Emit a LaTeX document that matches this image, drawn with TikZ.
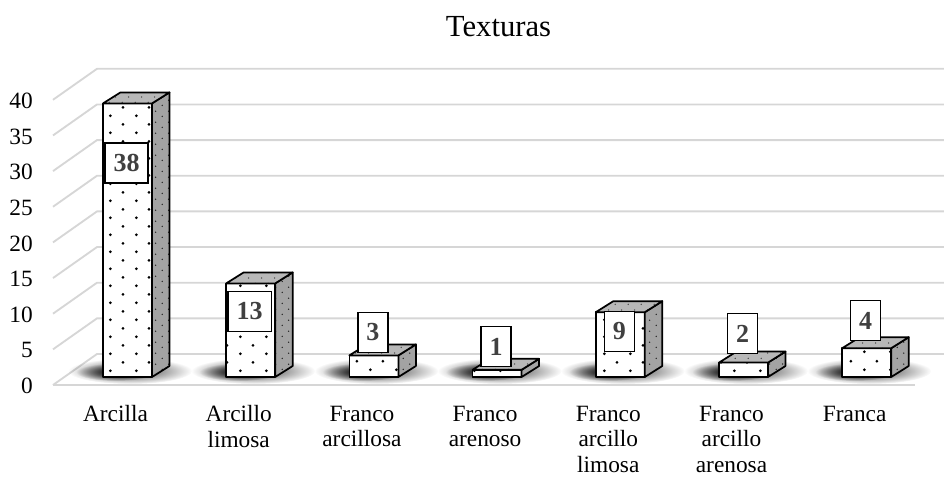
\documentclass[tikz,border=0pt]{standalone}
\usepackage{fontspec}
\setmainfont{Liberation Serif}
\usetikzlibrary{patterns.meta,fadings}

% dot patterns for the bar faces
\tikzdeclarepattern{
  name=bardots,
  type=uncolored,
  bottom left={(0pt,0pt)},
  top right={(19.5pt,13pt)},
  tile size={(19.5pt,13pt)},
  code={
    \fill (4.9pt,3.25pt) circle (1.15pt);
    \fill (14.6pt,9.75pt) circle (1.15pt);
  }
}
\tikzdeclarepattern{
  name=finedots,
  type=uncolored,
  bottom left={(0pt,0pt)},
  top right={(10pt,8pt)},
  tile size={(10pt,8pt)},
  code={
    \fill (2.5pt,2pt) circle (0.6pt);
    \fill (7.5pt,6pt) circle (0.6pt);
  }
}
\tikzfading[name=shadowfade, inner color=transparent!0, outer color=transparent!100]

\begin{document}
\begin{tikzpicture}[x=0.75pt,y=0.75pt]
\tikzstyle{grid} 	= [color = black!16, line width = 1.4pt] % light grid line
\tikzstyle{face} 	= [draw, color = black, line width = 1.3pt, line join = round] % bar outline
\tikzstyle{shadow}	= [fill = black, path fading = shadowfade] % soft floor shadow
\tikzstyle{ticklabel}	= [anchor = east, inner sep = 0, font = \fontsize{17.5}{20}\selectfont]
\tikzstyle{catlabel}	= [anchor = north, inner sep = 0, align = center, font = \fontsize{17.5}{19.2}\selectfont]
\tikzstyle{valbox}	= [draw, fill = white, line width = 1.1pt, text = black!75, inner xsep = 6.4pt, inner ysep = 0pt, minimum height = 30pt, font = \fontsize{19.5}{22}\selectfont\bfseries]

\useasboundingbox (0,0) rectangle (944,478);

% title
\node(title)[anchor = base, font = \fontsize{23}{27}\selectfont] at (498.5,441){Texturas};

% walls, grid and value axis
\foreach \v in {0,5,...,40}{
	\draw[grid] (53,93+7.13*\v) -- (97,124+7.13*\v) -- (944,124+7.13*\v);
	\node(tick\v)[ticklabel] at (33,92+7.13*\v){\v};
}
\draw[grid] (53,93) -- (915,93);

% soft shadows on the floor
\foreach \i in {0,...,6}{
	\fill[shadow, opacity = 0.8] (130+123.2*\i,107) ellipse (62 and 13);
	\fill[shadow] (116+123.2*\i,106) ellipse (40 and 9);
}

% bars: front, side, top
\foreach \i/\v in {0/38,1/13,2/3,3/1,4/9,5/2,6/4}{
	\pgfmathsetmacro\x{103+123.2*\i}
	\pgfmathsetmacro\h{7.2*\v}
	\path[face, preaction = {fill = white}, pattern = bardots] (\x,101) rectangle (\x+49,101+\h);
	\path[face, preaction = {fill = black!36}, pattern = finedots, pattern color = black!85]
		(\x+49,101) -- (\x+66.5,112) -- (\x+66.5,112+\h) -- (\x+49,101+\h) -- cycle;
	\path[face, preaction = {fill = black!28}, pattern = finedots, pattern color = black!70]
		(\x,101+\h) -- (\x+49,101+\h) -- (\x+66.5,112+\h) -- (\x+17.5,112+\h) -- cycle;
}

% data labels
\foreach \i/\v/\ly in {0/38/315,1/13/166.5,2/3/145.5,3/1/131.5,4/9/146.5,5/2/144.5,6/4/157.5}{
	\node(val\i)[valbox] at (126.5+123.2*\i,\ly){\v};
}

% category labels
\foreach \i/\t in {0/Arcilla,1/Arcillo\\limosa,2/Franco\\arcillosa,3/Franco\\arenoso,4/Franco\\arcillo\\limosa,5/Franco\\arcillo\\arenosa,6/Franca}{
	\node(cat\i)[catlabel] at (115.5+123.2*\i,72.5){\t};
}
\end{tikzpicture}
\end{document}
